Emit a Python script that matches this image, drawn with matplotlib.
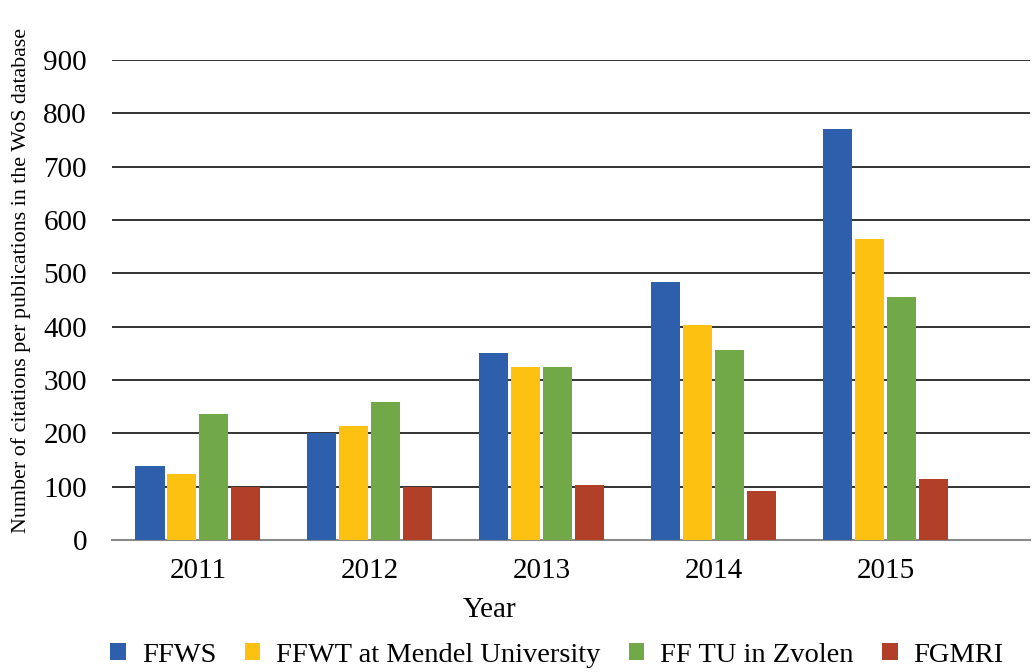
import numpy as np
import matplotlib.pyplot as plt

years = ['2011', '2012', '2013', '2014', '2015']
series = ['FFWS', 'FFWT at Mendel University', 'FF TU in Zvolen', 'FGMRI']
ffws = [139, 200, 351, 483, 770]
ffwt = [124, 213, 325, 404, 565]
fftu = [237, 258, 325, 357, 455]
fgmri = [100, 100, 104, 91, 115]
colors = ['#2E5FAC', '#FCC111', '#71A949', '#B23F28']

plt.rcParams['font.family'] = ['Liberation Serif', 'DejaVu Serif']

fig = plt.figure(figsize=(10.33, 6.72), dpi=100)
ax = fig.add_axes([112 / 1033, 1 - 540 / 672, 918 / 1033, 480 / 672])

x = np.arange(len(years))
pitch = 0.186
width = 0.169
for i, (vals, name) in enumerate(zip([ffws, ffwt, fftu, fgmri], series)):
    ax.bar(x + (i - 1.5) * pitch, vals, width, color=colors[i], label=name, zorder=3)

ax.set_xlim(-0.5, 4.84)
ax.set_ylim(0, 900)
ax.set_yticks(range(0, 901, 100))
ax.set_xticks(x)
ax.set_xticklabels(years)
ax.yaxis.grid(True, color='#111111', linewidth=1.2, zorder=0)
ax.set_axisbelow(True)
for s in ['top', 'right', 'left']:
    ax.spines[s].set_visible(False)
ax.spines['bottom'].set_color('#8a8a8a')
ax.spines['bottom'].set_linewidth(1.5)
ax.tick_params(axis='both', length=0, labelsize=21)
ax.tick_params(axis='x', pad=13)
ax.tick_params(axis='y', pad=18)

ax.set_ylabel('Number of citations per publications in the WoS database', fontsize=15.8)
ax.yaxis.set_label_coords(-0.088, 0.54)

fig.text(490 / 1033, 1 - 610 / 672, 'Year', fontsize=21, ha='center', va='center')

fig.legend(loc='center', bbox_to_anchor=(557 / 1033, 1 - 655 / 672), ncol=4, frameon=False,
           fontsize=20.5, handlelength=0.55, handleheight=0.55, handletextpad=0.55,
           columnspacing=1.0, borderaxespad=0, borderpad=0)

fig.savefig('out.png', dpi=100)
